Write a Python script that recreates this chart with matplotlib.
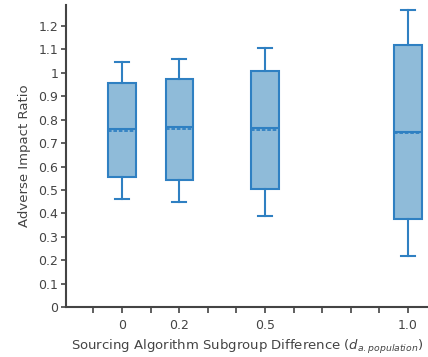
import matplotlib
matplotlib.use("Agg")
import matplotlib.pyplot as plt
from matplotlib.ticker import FixedLocator, FuncFormatter

# sourcing algorithm subgroup difference
d_values = [0.0, 0.2, 0.5, 1.0]
x_labels = ["0", "0.2", "0.5", "1.0"]

# box statistics
lower_fence = [0.46, 0.45, 0.39, 0.22]
q1 = [0.555, 0.543, 0.503, 0.375]
median = [0.759, 0.768, 0.763, 0.747]
mean = [0.753, 0.759, 0.756, 0.744]
q3 = [0.958, 0.973, 1.008, 1.118]
upper_fence = [1.048, 1.058, 1.108, 1.268]

line_col = "#2f80c2"
fill_col = "#8fbbd9"
axis_col = "#444444"

stats = []
for i in range(len(d_values)):
    stats.append({"whislo": lower_fence[i], "q1": q1[i], "med": median[i],
                  "mean": mean[i], "q3": q3[i], "whishi": upper_fence[i],
                  "fliers": []})

fig = plt.figure(figsize=(4.28, 3.57), dpi=100)
ax = fig.add_axes([0.154, 0.14, 0.846, 0.846])

ax.bxp(stats, positions=d_values, widths=0.095, capwidths=0.047,
       patch_artist=True, showmeans=True, meanline=True, manage_ticks=False,
       boxprops=dict(facecolor=fill_col, edgecolor=line_col, linewidth=1.5),
       medianprops=dict(color=line_col, linewidth=1.5),
       meanprops=dict(color=line_col, linewidth=1.3, linestyle=(0, (2, 1))),
       whiskerprops=dict(color=line_col, linewidth=1.5),
       capprops=dict(color=line_col, linewidth=1.5))

ax.set_xlim(-0.196, 1.07)
ax.set_ylim(0, 1.29)

ax.xaxis.set_major_locator(FixedLocator(d_values))
ax.set_xticklabels(x_labels)
ax.xaxis.set_minor_locator(FixedLocator([-0.1, 0.1, 0.3, 0.4, 0.6, 0.7, 0.8, 0.9]))
ax.yaxis.set_major_locator(FixedLocator([i / 10 for i in range(13)]))
ax.yaxis.set_major_formatter(FuncFormatter(lambda v, p: "%g" % round(v, 1)))

ax.tick_params(axis="both", which="both", direction="out", colors=axis_col,
               labelsize=9, width=1.2)
ax.tick_params(axis="x", which="both", length=4.3, pad=4)
ax.tick_params(axis="y", length=3.6, pad=2)

for side in ["top", "right"]:
    ax.spines[side].set_visible(False)
for side in ["left", "bottom"]:
    ax.spines[side].set_color(axis_col)
    ax.spines[side].set_linewidth(1.5)

ax.set_ylabel("Adverse Impact Ratio", color=axis_col, fontsize=9.5, labelpad=5)
ax.set_xlabel("Sourcing Algorithm Subgroup Difference ($d_{a.population}$)",
              color=axis_col, fontsize=9.5, labelpad=5)

fig.savefig("out.png", dpi=100)
